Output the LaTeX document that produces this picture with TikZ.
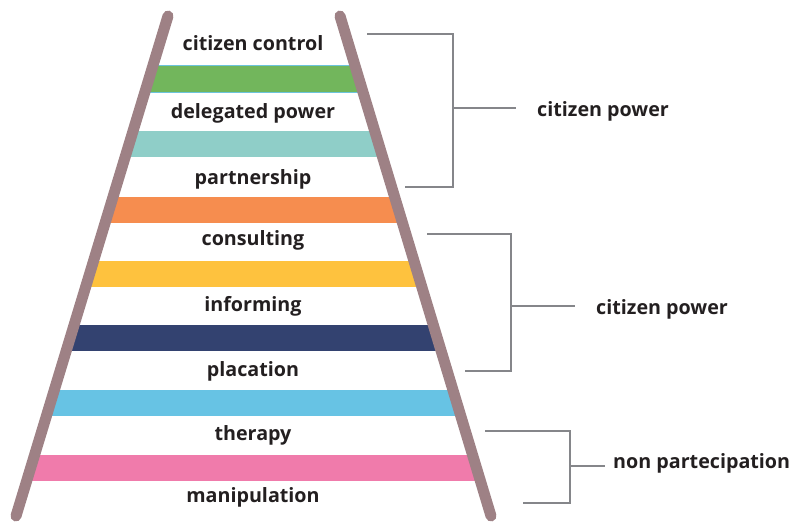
\documentclass[tikz,border=0pt]{standalone}
\usepackage{fontspec}
\setmainfont{Open Sans}
\usetikzlibrary{positioning}

\definecolor{railcol}{HTML}{9E8185}
\definecolor{inkcol}{HTML}{231F20}
\definecolor{bracketcol}{HTML}{85868A}
\definecolor{rungA}{HTML}{72B65C}
\definecolor{rungB}{HTML}{8FCEC8}
\definecolor{rungC}{HTML}{F68D4F}
\definecolor{rungD}{HTML}{FEC23E}
\definecolor{rungE}{HTML}{334270}
\definecolor{rungF}{HTML}{67C3E4}
\definecolor{rungG}{HTML}{F07BAB}
\definecolor{edgecol}{HTML}{6CC4DC}

\begin{document}
\begin{tikzpicture}[x=1pt, y=-1pt,
    step label/.style = {font=\bfseries\fontsize{19.7}{21}\selectfont, text=inkcol, inner sep=0pt},
    group label/.style = {font=\bfseries\fontsize{19.7}{21}\selectfont, text=inkcol, inner sep=0pt, anchor=west},
    bracket/.style = {draw=bracketcol, line width=2pt},
    rail/.style = {draw=railcol, line width=11pt, line cap=round}]
    \useasboundingbox (0,0) rectangle (792,522);

    % ladder rails
    \coordinate (LT) at (168,16);
    \coordinate (LB) at (16,516);
    \coordinate (RT) at (340,16);
    \coordinate (RB) at (491,516);

    % coloured rungs
    \begin{scope}
        \clip (LT) -- (RT) -- (RB) -- (LB) -- cycle;
        \fill[edgecol] (0,65) rectangle (792,93);
        \foreach \y/\c in {66/rungA, 131/rungB, 197/rungC, 261/rungD, 325/rungE, 390/rungF, 455/rungG}
            \fill[\c] (0,\y) rectangle (792,\y+26);
    \end{scope}

    \draw[rail] (LT) -- (LB);
    \draw[rail] (RT) -- (RB);

    % steps
    \node[step label] (control) at (253,43) {citizen control};
    \node[step label] (delegated) at (253,113) {delegated power};
    \node[step label] (partner) at (253,179) {partnership};
    \node[step label] (consult) at (253,240) {consulting};
    \node[step label] (inform) at (253,306) {informing};
    \node[step label] (placate) at (253,371) {placation};
    \node[step label] (therapy) at (253,435) {therapy};
    \node[step label] (manip) at (253,497) {manipulation};

    % brackets
    \coordinate (b1a) at (367,34);
    \coordinate (b1m) at (453,108);
    \coordinate (b1b) at (405,187);
    \coordinate (b1e) at (516,108);
    \draw[bracket] (b1a) -| (b1m) |- (b1b);
    \draw[bracket] (b1m) -- (b1e);
    \node[group label, right=21pt of b1e, yshift=-3pt] (power1) {citizen power};

    \coordinate (b2a) at (427,234);
    \coordinate (b2m) at (511,306);
    \coordinate (b2b) at (465,371);
    \coordinate (b2e) at (575,306);
    \draw[bracket] (b2a) -| (b2m) |- (b2b);
    \draw[bracket] (b2m) -- (b2e);
    \node[group label, right=21pt of b2e, yshift=-3pt] (power2) {citizen power};

    \coordinate (b3a) at (485,431);
    \coordinate (b3m) at (570,466);
    \coordinate (b3b) at (523,503);
    \coordinate (b3e) at (605,466);
    \draw[bracket] (b3a) -| (b3m) |- (b3b);
    \draw[bracket] (b3m) -- (b3e);
    \node[group label, right=8pt of b3e, yshift=3pt] (nonpart) {non partecipation};
\end{tikzpicture}
\end{document}
